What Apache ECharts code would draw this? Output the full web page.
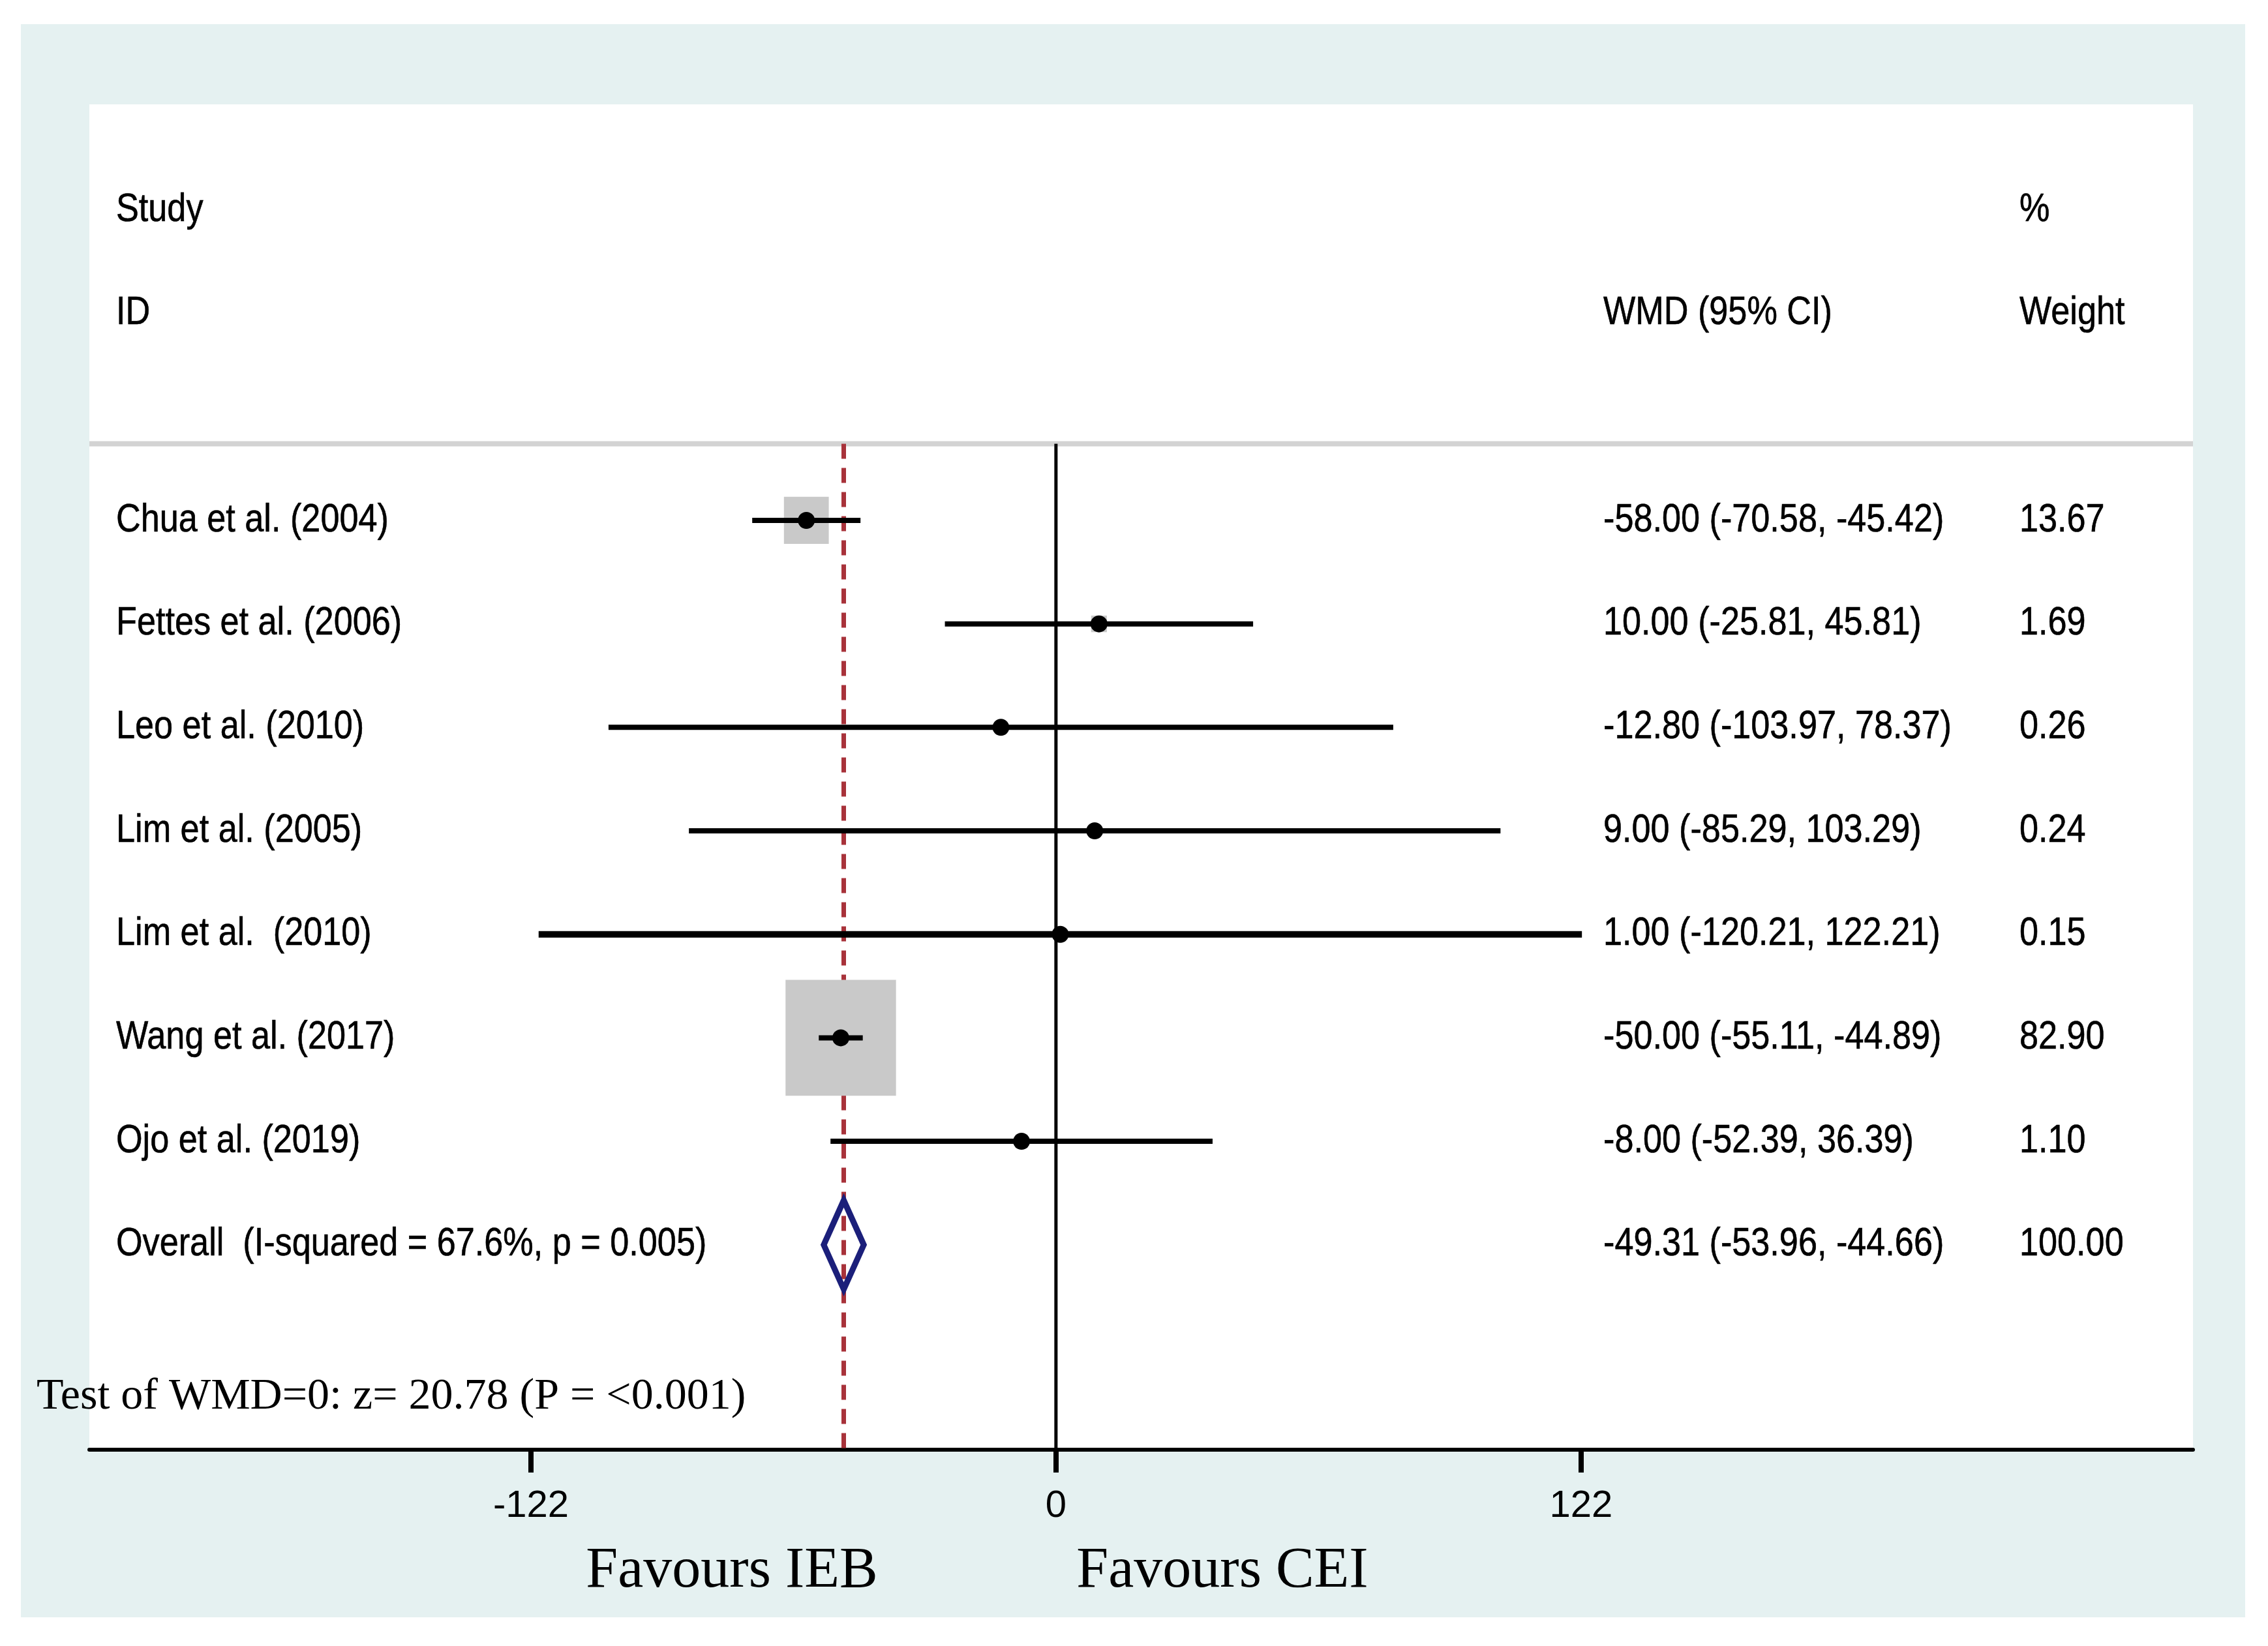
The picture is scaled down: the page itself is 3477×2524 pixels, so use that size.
<!DOCTYPE html>
<html>
<head>
<meta charset="utf-8">
<script src="https://cdn.jsdelivr.net/npm/echarts@6/dist/echarts.min.js"></script>
<style>
  html, body { margin: 0; padding: 0; background: #ffffff; width: 3477px; height: 2524px; overflow: hidden; }
  #chart { position: absolute; left: 32px; top: 37px; width: 3410px; height: 2443px; background: #e5f1f1; }
</style>
</head>
<body>
<div id="chart"></div>
<script>
// ---------------- data ----------------
const studies = ['Chua et al. (2004)', 'Fettes et al. (2006)', 'Leo et al. (2010)', 'Lim et al. (2005)', 'Lim et al.  (2010)', 'Wang et al. (2017)', 'Ojo et al. (2019)'];
const wmd     = [-58.00, 10.00, -12.80, 9.00, 1.00, -50.00, -8.00];
const ciLow   = [-70.58, -25.81, -103.97, -85.29, -120.21, -55.11, -52.39];
const ciHigh  = [-45.42, 45.81, 78.37, 103.29, 122.21, -44.89, 36.39];
const weights = [13.67, 1.69, 0.26, 0.24, 0.15, 82.90, 1.10];

const overallLabel = 'Overall  (I-squared = 67.6%, p = 0.005)';
const overallEst = -49.31;
const overallLow = -53.96;
const overallHigh = -44.66;
const overallWeight = 100.00;

const xTicks = [-122, 0, 122];
const testText = 'Test of WMD=0: z= 20.78 (P = <0.001)';
const favourLeft = 'Favours IEB';
const favourRight = 'Favours CEI';
const headerStudy = ['Study', 'ID'];
const headerEffect = 'WMD (95% CI)';
const headerWeight = ['%', 'Weight'];

// ---------------- layout (pixels / axis extents) ----------------
const X_MIN = -224.6, X_MAX = 264.2;
const Y_MIN = -4.02, Y_MAX = 8.98;
const SEP_ROW = -0.74;
const TEST_ROW = 8.47;
const COL_LABEL = 146, COL_EFFECT = 2426, COL_WEIGHT = 3064, COL_TEST = 24;
const SANS = "'Liberation Sans', Arial, Helvetica, sans-serif";
const SERIF = "'Liberation Serif', 'Times New Roman', serif";
const TXT = 58, SCALE_X = 0.9;
const BOX_K = 18.6;

const fmt = v => v.toFixed(2);

// rows of text: [row, label, effect, weight]
const textRows = [];
textRows.push([-3, headerStudy[0], '', headerWeight[0]]);
textRows.push([-2, headerStudy[1], headerEffect, headerWeight[1]]);
studies.forEach((s, i) => {
  textRows.push([i, s, fmt(wmd[i]) + ' (' + fmt(ciLow[i]) + ', ' + fmt(ciHigh[i]) + ')', fmt(weights[i])]);
});
textRows.push([studies.length, overallLabel, fmt(overallEst) + ' (' + fmt(overallLow) + ', ' + fmt(overallHigh) + ')', fmt(overallWeight)]);

function sansText(x, y, str) {
  return {
    type: 'text', x: x, y: y, scaleX: SCALE_X, scaleY: 1.04,
    style: { text: str, fill: '#000', font: TXT + 'px ' + SANS, fontSize: TXT, fontFamily: SANS,
             align: 'left', verticalAlign: 'middle', textAlign: 'left', textVerticalAlign: 'middle',
             stroke: '#000', lineWidth: 0.6 }
  };
}

const chart = echarts.init(document.getElementById('chart'), null, { renderer: 'canvas' });

const option = {
  backgroundColor: 'transparent',
  animation: false,
  grid: { left: 105, right: 80, top: 123, bottom: 257, show: true, backgroundColor: '#ffffff', borderWidth: 0 },
  xAxis: {
    type: 'value', min: X_MIN, max: X_MAX,
    splitLine: { show: false },
    axisLine: { show: true, onZero: false, lineStyle: { color: '#000', width: 6 } },
    axisTick: { show: true, inside: false, length: 35, lineStyle: { color: '#000', width: 8 }, customValues: xTicks },
    axisLabel: { show: true, margin: 58, color: '#000', fontSize: 58, fontFamily: SANS, customValues: xTicks, verticalAlign: 'top' }
  },
  yAxis: { type: 'value', inverse: true, min: Y_MIN, max: Y_MAX, show: false, splitLine: { show: false } },
  graphic: [
    { type: 'text', x: 1090, y: 2373, style: { text: favourLeft, fill: '#000', font: '88px ' + SERIF, align: 'center', verticalAlign: 'middle', textAlign: 'center', textVerticalAlign: 'middle' } },
    { type: 'text', x: 1842, y: 2373, style: { text: favourRight, fill: '#000', font: '88px ' + SERIF, align: 'center', verticalAlign: 'middle', textAlign: 'center', textVerticalAlign: 'middle' } }
  ],
  series: [
    { // header separator
      type: 'line', data: [[X_MIN, SEP_ROW], [X_MAX, SEP_ROW]], symbol: 'none', silent: true, z: 1,
      lineStyle: { color: '#d3d3d3', width: 8 }
    },
    { // overall effect dashed line
      type: 'line', data: [[overallEst, SEP_ROW], [overallEst, Y_MAX]], symbol: 'none', silent: true, z: 2,
      lineStyle: { color: '#a8323a', width: 7, type: [23, 14], cap: 'butt' }
    },
    { // null line
      type: 'line', data: [[0, SEP_ROW], [0, Y_MAX]], symbol: 'none', silent: true, z: 2,
      lineStyle: { color: '#000', width: 5 }
    },
    { // study boxes, CIs, points
      type: 'custom', z: 5, silent: true,
      data: studies.map((s, i) => [i, wmd[i], ciLow[i], ciHigh[i], weights[i]]),
      encode: { x: [1, 2, 3], y: 0 },
      renderItem: function (params, api) {
        const row = api.value(0), est = api.value(1), lo = api.value(2), hi = api.value(3), w = api.value(4);
        const c = api.coord([est, row]);
        const pl = api.coord([lo, row]);
        const ph = api.coord([hi, row]);
        const side = BOX_K * Math.sqrt(w);
        const bw = side, bh = side * 1.05;
        return {
          type: 'group',
          children: [
            { type: 'rect', shape: { x: c[0] - bw / 2, y: c[1] - bh / 2, width: bw, height: bh }, style: { fill: '#c9c9c9' } },
            { type: 'line', shape: { x1: pl[0], y1: pl[1], x2: ph[0], y2: ph[1] }, style: { stroke: '#000', lineWidth: row === 4 ? 10 : 8 } },
            { type: 'circle', shape: { cx: c[0], cy: c[1], r: 13 }, style: { fill: '#000' } }
          ]
        };
      }
    },
    { // overall diamond
      type: 'custom', z: 6, silent: true,
      data: [[studies.length, overallEst, overallLow, overallHigh]],
      encode: { x: [1, 2, 3], y: 0 },
      renderItem: function (params, api) {
        const row = api.value(0), est = api.value(1), lo = api.value(2), hi = api.value(3);
        const pL = api.coord([lo, row]), pR = api.coord([hi, row]);
        const pT = api.coord([est, row - 0.43]), pB = api.coord([est, row + 0.43]);
        return {
          type: 'polygon',
          shape: { points: [pL, pT, pR, pB] },
          style: { fill: 'none', stroke: '#1b1f7a', lineWidth: 9, lineJoin: 'miter' }
        };
      }
    },
    { // table text
      type: 'custom', z: 7, silent: true, clip: false,
      data: textRows.map(r => [0, r[0]]),
      encode: { x: 0, y: 1 },
      renderItem: function (params, api) {
        const r = textRows[params.dataIndex];
        const y = api.coord([0, api.value(1)])[1];
        const kids = [];
        if (r[1]) kids.push(sansText(COL_LABEL, y, r[1]));
        if (r[2]) kids.push(sansText(COL_EFFECT, y, r[2]));
        if (r[3]) kids.push(sansText(COL_WEIGHT, y, r[3]));
        return { type: 'group', children: kids };
      }
    },
    { // test statistic text
      type: 'custom', z: 7, silent: true, clip: false,
      data: [[0, TEST_ROW]],
      encode: { x: 0, y: 1 },
      renderItem: function (params, api) {
        const y = api.coord([0, api.value(1)])[1];
        return {
          type: 'text', x: COL_TEST, y: y,
          style: { text: testText, fill: '#000', font: '68px ' + SERIF, align: 'left', verticalAlign: 'middle', textAlign: 'left', textVerticalAlign: 'middle' }
        };
      }
    }
  ]
};
chart.setOption(option);
</script>
</body>
</html>
